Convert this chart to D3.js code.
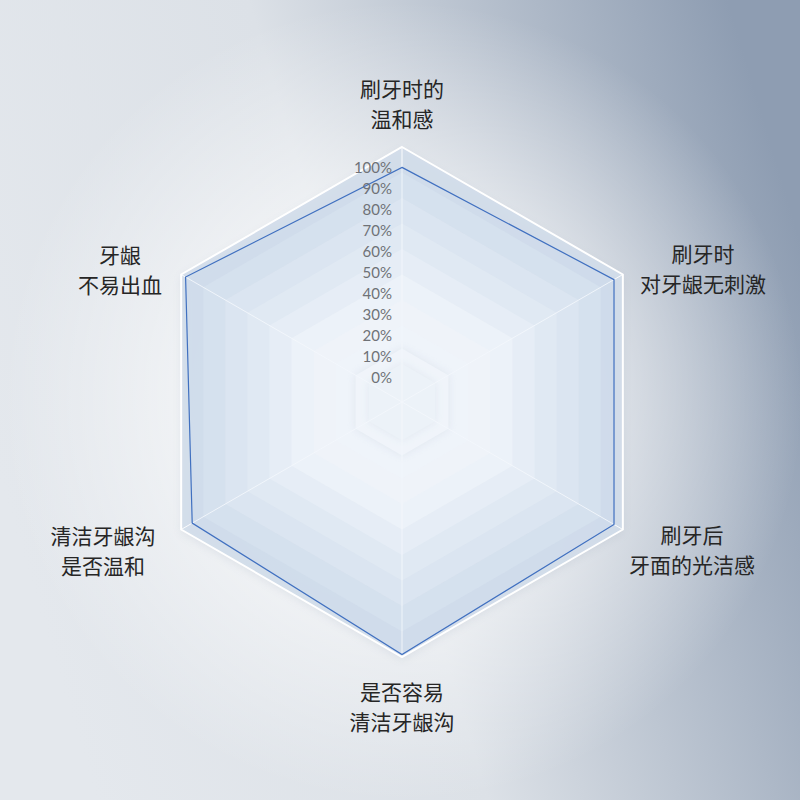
<!DOCTYPE html>
<html><head><meta charset="utf-8">
<script src="https://cdn.jsdelivr.net/npm/d3@7"></script>
<style>html,body{margin:0;padding:0;background:#fff}svg{display:block}</style>
</head><body>
<script>
const categories = [["刷牙时的","温和感"],["刷牙时","对牙龈无刺激"],["刷牙后","牙面的光洁感"],["是否容易","清洁牙龈沟"],["清洁牙龈沟","是否温和"],["牙龈","不易出血"]];
const values = [0.92, 0.96, 0.96, 0.99, 0.95, 0.98];
const tickLabels = ["0%","10%","20%","30%","40%","50%","60%","70%","80%","90%","100%"];

const W = 800, H = 800, cx = 402, cy = 402, R = 255;
const svg = d3.select("body").append("svg").attr("width", W).attr("height", H);
const defs = svg.append("defs");

const lg = defs.append("linearGradient").attr("id","bg").attr("x1","0").attr("y1","0.6").attr("x2","1").attr("y2","0.3");
lg.append("stop").attr("offset","0").attr("stop-color","#e4e8ed");
lg.append("stop").attr("offset","0.45").attr("stop-color","#dce1e7");
lg.append("stop").attr("offset","1").attr("stop-color","#8e9db2");
const rg = defs.append("radialGradient").attr("id","glow").attr("cx",cx/W).attr("cy",cy/H).attr("r","0.5");
rg.append("stop").attr("offset","0").attr("stop-color","#ffffff").attr("stop-opacity",1);
rg.append("stop").attr("offset","0.3").attr("stop-color","#ffffff").attr("stop-opacity",0.8);
rg.append("stop").attr("offset","1").attr("stop-color","#ffffff").attr("stop-opacity",0);
const sh = defs.append("filter").attr("id","sh").attr("x","-30%").attr("y","-30%").attr("width","160%").attr("height","160%");
sh.append("feGaussianBlur").attr("stdDeviation",4);

svg.append("rect").attr("width",W).attr("height",H).attr("fill","url(#bg)");
svg.append("rect").attr("width",W).attr("height",H).attr("fill","url(#glow)");

const n = categories.length;
const ang = d3.scaleLinear().domain([0, n]).range([-Math.PI/2, 1.5*Math.PI]);
const rs = d3.scaleLinear().domain([0, 1]).range([0, R]);
const pt = (i, v) => [cx + rs(v)*Math.cos(ang(i)), cy + rs(v)*Math.sin(ang(i))];
const hex = v => d3.range(n).map(i => pt(i, v));
const line = d3.line().curve(d3.curveLinearClosed);

// outer shadow
svg.append("path").attr("d", line(hex(1.0))).attr("fill","#7f8fa5").attr("opacity",0.15).attr("filter","url(#sh)").attr("transform","translate(0,3)");

// split areas
const levels = d3.range(10, 0, -1).map(k => k/10);
const bandColor = d3.scaleLinear().domain([0, 0.5, 1]).range(["#ffffff", "#f7f9fb", "#d2ddea"]);
svg.append("g").selectAll("path").data(levels).join("path")
  .attr("d", v => line(hex(v)))
  .attr("fill", v => bandColor(v))
  .attr("fill-opacity", 0.9);

// inner decorative hexagon with shadow
svg.append("path").attr("d", line(hex(0.21))).attr("fill","#cfd6de").attr("opacity",0.45).attr("filter","url(#sh)");
svg.append("path").attr("d", line(hex(0.21))).attr("fill","#fbfcfd");
svg.append("path").attr("d", line(hex(0.15))).attr("fill","#cfd6de").attr("opacity",0.4).attr("filter","url(#sh)");
svg.append("path").attr("d", line(hex(0.15))).attr("fill","#f7f9fa");

// outer white border
svg.append("path").attr("d", line(hex(1.0))).attr("fill","none").attr("stroke","#ffffff").attr("stroke-width",2);

// axis lines
svg.append("g").selectAll("line").data(d3.range(n)).join("line")
  .attr("x1", cx).attr("y1", cy)
  .attr("x2", i => pt(i,1)[0]).attr("y2", i => pt(i,1)[1])
  .attr("stroke","#ffffff").attr("stroke-opacity",0.9).attr("stroke-width",1);

// data polygon
svg.append("path").attr("d", line(values.map((v,i) => pt(i, v))))
  .attr("fill","#c8dcf2").attr("fill-opacity",0.22)
  .attr("stroke","#4070c0").attr("stroke-width",1.2);

// tick labels
const ty = d3.scaleLinear().domain([0, tickLabels.length-1]).range([378, 168]);
svg.append("g").selectAll("text").data(tickLabels).join("text")
  .attr("x", 392).attr("y", (d,i) => ty(i)).attr("dy","0.35em")
  .attr("text-anchor","end").attr("font-family","Lato, 'Noto Sans', sans-serif")
  .attr("font-size",15).attr("fill","#6f7277").text(d => d);

// category labels
const labelPos = [[402, 90],[703, 255],[692, 536],[402, 693],[103, 537],[120, 256]];
const lg2 = svg.append("g").selectAll("text").data(categories).join("text")
  .attr("text-anchor","middle")
  .attr("font-family","'Noto Sans CJK SC', sans-serif").attr("font-size",21).attr("fill","#262626");
lg2.each(function(d, i){
  const t = d3.select(this);
  d.forEach((s, j) => t.append("tspan").attr("x", labelPos[i][0]).attr("y", labelPos[i][1] + j*30).attr("dy","0.35em").text(s));
});
</script>
</body></html>
